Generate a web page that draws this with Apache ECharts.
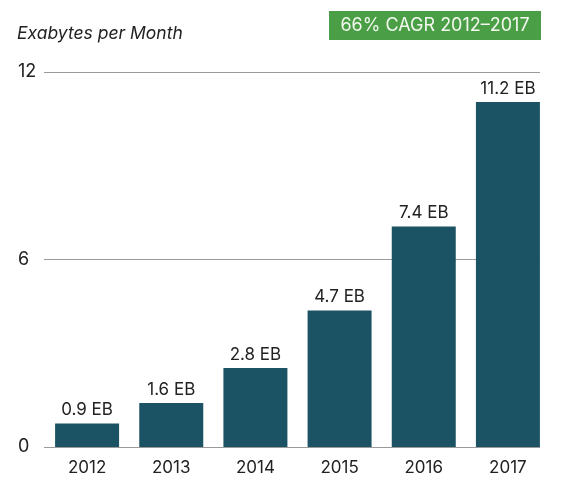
<!DOCTYPE html>
<html>
<head>
<meta charset="utf-8">
<script src="https://cdn.jsdelivr.net/npm/echarts@6/dist/echarts.min.js"></script>
<style>
html,body{margin:0;padding:0;background:#fff;}
#chart{width:561px;height:494px;}
</style>
</head>
<body>
<div id="chart"></div>
<script>
var years = ['2012', '2013', '2014', '2015', '2016', '2017'];
var barValues = [0.75, 1.41, 2.53, 4.37, 7.06, 11.04];
var barLabels = ['0.9 EB', '1.6 EB', '2.8 EB', '4.7 EB', '7.4 EB', '11.2 EB'];
var yTicks = [0, 6, 12];
var unitTitle = 'Exabytes per Month';
var cagrText = '66% CAGR 2012\u20132017';

var FONT = 'Inter';
var chart = echarts.init(document.getElementById('chart'), null, {renderer: 'canvas'});
chart.setOption({
  animation: false,
  backgroundColor: '#ffffff',
  grid: [
    {left: 44, right: 21, top: 72, bottom: 47},
    {left: 45, right: 11, top: 72, bottom: 47}
  ],
  xAxis: [
    {type: 'category', gridIndex: 0, data: years, show: false},
    {type: 'category', gridIndex: 1, data: years,
     axisLine: {show: false}, axisTick: {show: false},
     axisLabel: {color: '#222', fontFamily: FONT, fontSize: 17, margin: 12}}
  ],
  yAxis: [
    {type: 'value', gridIndex: 0, min: yTicks[0], max: yTicks[yTicks.length - 1], interval: 6,
     axisLine: {show: false}, axisTick: {show: false},
     splitLine: {show: true, lineStyle: {color: '#9a9a9a', width: 1}},
     axisLabel: {color: '#222', fontFamily: FONT, fontSize: 18, align: 'left', margin: 26}},
    {type: 'value', gridIndex: 1, min: yTicks[0], max: yTicks[yTicks.length - 1], interval: 6, show: false}
  ],
  series: [{
    type: 'bar',
    xAxisIndex: 1, yAxisIndex: 1,
    data: barValues,
    barWidth: 64,
    itemStyle: {color: '#1c5364'},
    label: {
      show: true, position: 'top', distance: 5,
      color: '#222', fontFamily: FONT, fontSize: 17,
      formatter: function (p) { return barLabels[p.dataIndex]; }
    }
  }],
  graphic: [
    {type: 'text', left: 17, top: 25,
     style: {text: unitTitle, fill: '#222', font: 'italic 17.5px ' + FONT}},
    {type: 'rect', shape: {x: 329, y: 11, width: 212, height: 29},
     style: {fill: '#4a9e46'}},
    {type: 'text', x: 435, y: 26,
     style: {text: cagrText, fill: '#f2f8ee', font: '18px ' + FONT, align: 'center', verticalAlign: 'middle'}}
  ]
});
</script>
</body>
</html>
